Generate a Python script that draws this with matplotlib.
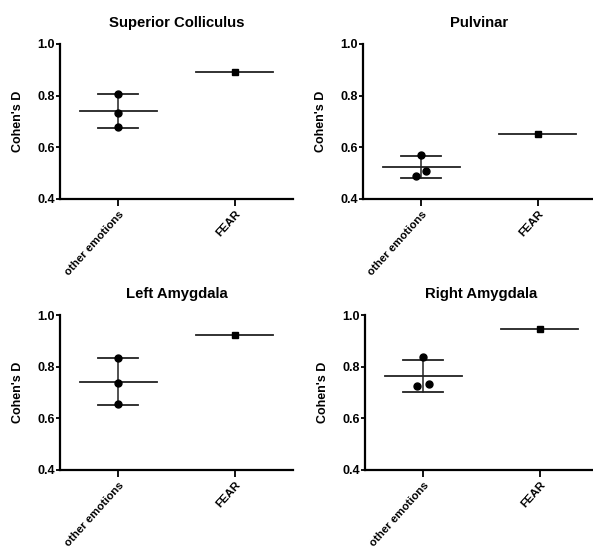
import numpy as np
import matplotlib
matplotlib.use("Agg")
import matplotlib.pyplot as plt

plt.rcParams['font.family'] = ['Liberation Sans', 'DejaVu Sans']
plt.rcParams['font.weight'] = 'bold'

categories = ["other emotions", "FEAR"]
regions = ["Superior Colliculus", "Pulvinar", "Left Amygdala", "Right Amygdala"]

# Cohen's D for the other emotions (three values) and fear (one value)
sc_other = [0.808, 0.734, 0.679]
sc_fear = 0.893
pul_other = [0.571, 0.490, 0.510]
pul_fear = 0.651
la_other = [0.835, 0.737, 0.654]
la_fear = 0.924
ra_other = [0.837, 0.724, 0.733]
ra_fear = 0.946

others = [sc_other, pul_other, la_other, ra_other]
fears = [sc_fear, pul_fear, la_fear, ra_fear]

# horizontal scatter of the overlapping dots (only where Prism shifted them)
jitter = [[0, 0, 0], [0, -0.043, 0.04], [0, 0, 0], [0, -0.05, 0.05]]

W, H = 593, 548
fig = plt.figure(figsize=(W / 100, H / 100), dpi=100)
boxes = [(60, 199), (363, 199), (60, 470), (365, 470)]

for i in range(4):
    left, bottom = boxes[i]
    ax = fig.add_axes([left / W, 1 - bottom / H, 233 / W, 155 / H])

    vals = np.array(others[i])
    m = vals.mean()
    sd = vals.std(ddof=1)

    # mean line and SD error bar
    ax.plot([-0.33, 0.33], [m, m], color='#222222', lw=1.3)
    ax.plot([-0.17, 0.17], [m + sd, m + sd], color='#222222', lw=1.3)
    ax.plot([-0.17, 0.17], [m - sd, m - sd], color='#222222', lw=1.3)
    ax.plot([0, 0], [m - sd, m + sd], color='#222222', lw=1.1)
    ax.plot(np.array(jitter[i]), vals, 'o', color='black', ms=5, zorder=3)

    ax.plot([1 - 0.33, 1 + 0.33], [fears[i], fears[i]], color='#222222', lw=1.3)
    ax.plot([1], [fears[i]], 's', color='black', ms=4.5, zorder=3)

    ax.set_xlim(-0.5, 1.5)
    ax.set_ylim(0.4, 1.0)
    ax.set_yticks([0.4, 0.6, 0.8, 1.0])
    ax.set_yticklabels(["0.4", "0.6", "0.8", "1.0"], fontsize=9, fontweight='bold')
    ax.set_xticks([0, 1])
    ax.set_xticklabels(categories, rotation=48, ha='right', rotation_mode='anchor',
                       fontsize=8.2, fontweight='bold')
    ax.tick_params(axis='y', length=3, width=1.3, pad=0.5)
    ax.tick_params(axis='x', length=5, width=1.3, pad=2)
    ax.spines['top'].set_visible(False)
    ax.spines['right'].set_visible(False)
    ax.spines['left'].set_linewidth(1.6)
    ax.spines['bottom'].set_linewidth(1.6)
    ax.set_ylabel("Cohen's D", fontsize=9, fontweight='bold', labelpad=10)
    ax.set_title(regions[i], fontsize=10.7, fontweight='bold', pad=12)

fig.savefig("out.png", dpi=100)
